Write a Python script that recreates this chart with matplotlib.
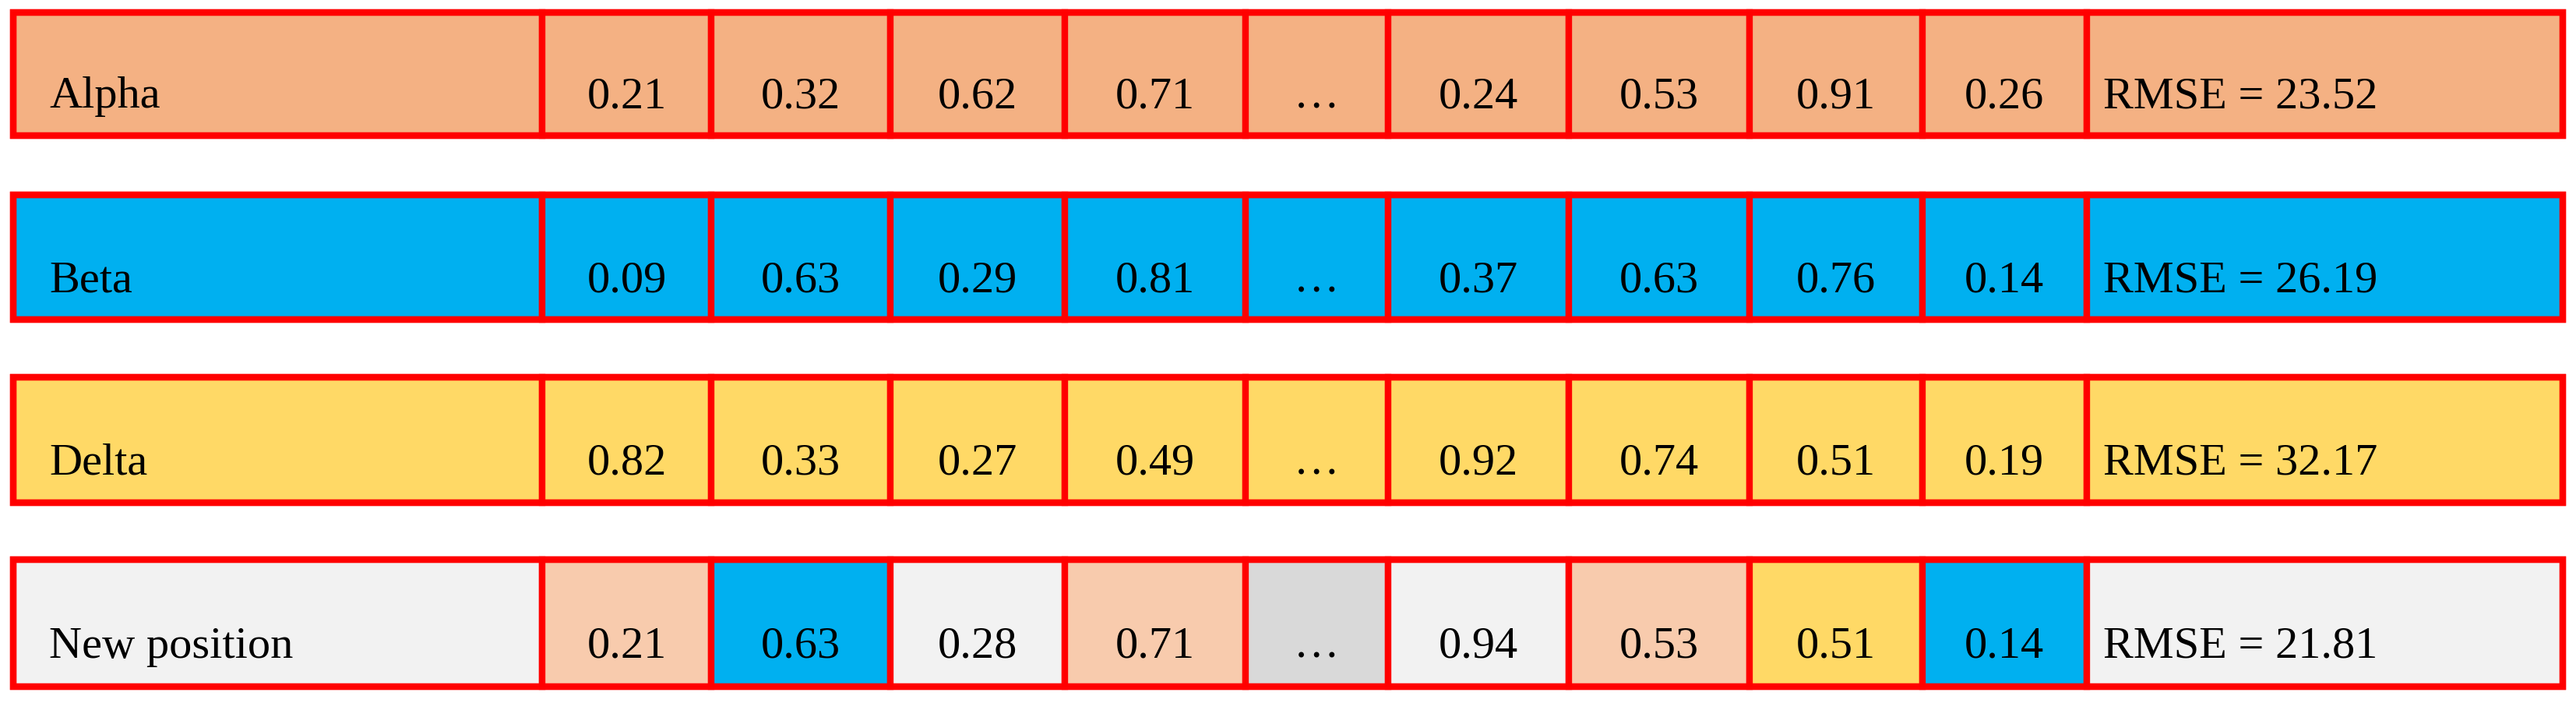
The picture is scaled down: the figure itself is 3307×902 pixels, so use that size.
import matplotlib.pyplot as plt
from matplotlib.patches import Rectangle

row_labels = ["Alpha", "Beta", "Delta", "New position"]
values = [
    ["0.21", "0.32", "0.62", "0.71", "…", "0.24", "0.53", "0.91", "0.26"],
    ["0.09", "0.63", "0.29", "0.81", "…", "0.37", "0.63", "0.76", "0.14"],
    ["0.82", "0.33", "0.27", "0.49", "…", "0.92", "0.74", "0.51", "0.19"],
    ["0.21", "0.63", "0.28", "0.71", "…", "0.94", "0.53", "0.51", "0.14"],
]
rmse = ["23.52", "26.19", "32.17", "21.81"]
row_colors = ["#F4B183", "#00B0F0", "#FFD966", "#F2F2F2"]
# source of each value in the new position row (A, B, D, none, grey)
new_src = ["A", "B", "N", "A", "G", "N", "A", "D", "B"]
src_color = {"A": "#F8CBAD", "B": "#00B0F0", "D": "#FFD966", "N": "#F2F2F2", "G": "#D9D9D9"}

col_edges = [8, 330, 433, 542, 648, 758, 845, 955, 1065, 1170, 1270, 1560]
row_spans = [(8, 83), (119, 195), (230, 306), (341, 418)]

fig = plt.figure(figsize=(33.07, 9.03), dpi=100)
ax = fig.add_axes([0, 0, 1, 1])
ax.set_xlim(0, 1568)
ax.set_ylim(428, 0)
ax.axis("off")
font = dict(family=["Liberation Serif", "DejaVu Serif"], fontsize=42)
ec = "#FF0000"
lw = 6

for r in range(4):
    y0, y1 = row_spans[r]
    h = y1 - y0
    for c in range(11):
        x0, x1 = col_edges[c], col_edges[c + 1]
        if r == 3 and 1 <= c <= 9:
            fc = src_color[new_src[c - 1]]
        else:
            fc = row_colors[r]
        ax.add_patch(Rectangle((x0, y0), x1 - x0, h, facecolor=fc, edgecolor=ec, linewidth=lw))
        ty = y0 + h * 0.68
        if c == 0:
            ax.text(x0 + 22, ty, row_labels[r], ha="left", va="center", **font)
        elif c == 10:
            ax.text(x0 + 10, ty, "RMSE = " + rmse[r], ha="left", va="center", **font)
        else:
            ax.text((x0 + x1) / 2, ty, values[r][c - 1], ha="center", va="center", **font)
    ax.add_patch(Rectangle((col_edges[0], y0), col_edges[-1] - col_edges[0], h,
                           facecolor="none", edgecolor=ec, linewidth=lw))

fig.savefig("out.png", dpi=100)
